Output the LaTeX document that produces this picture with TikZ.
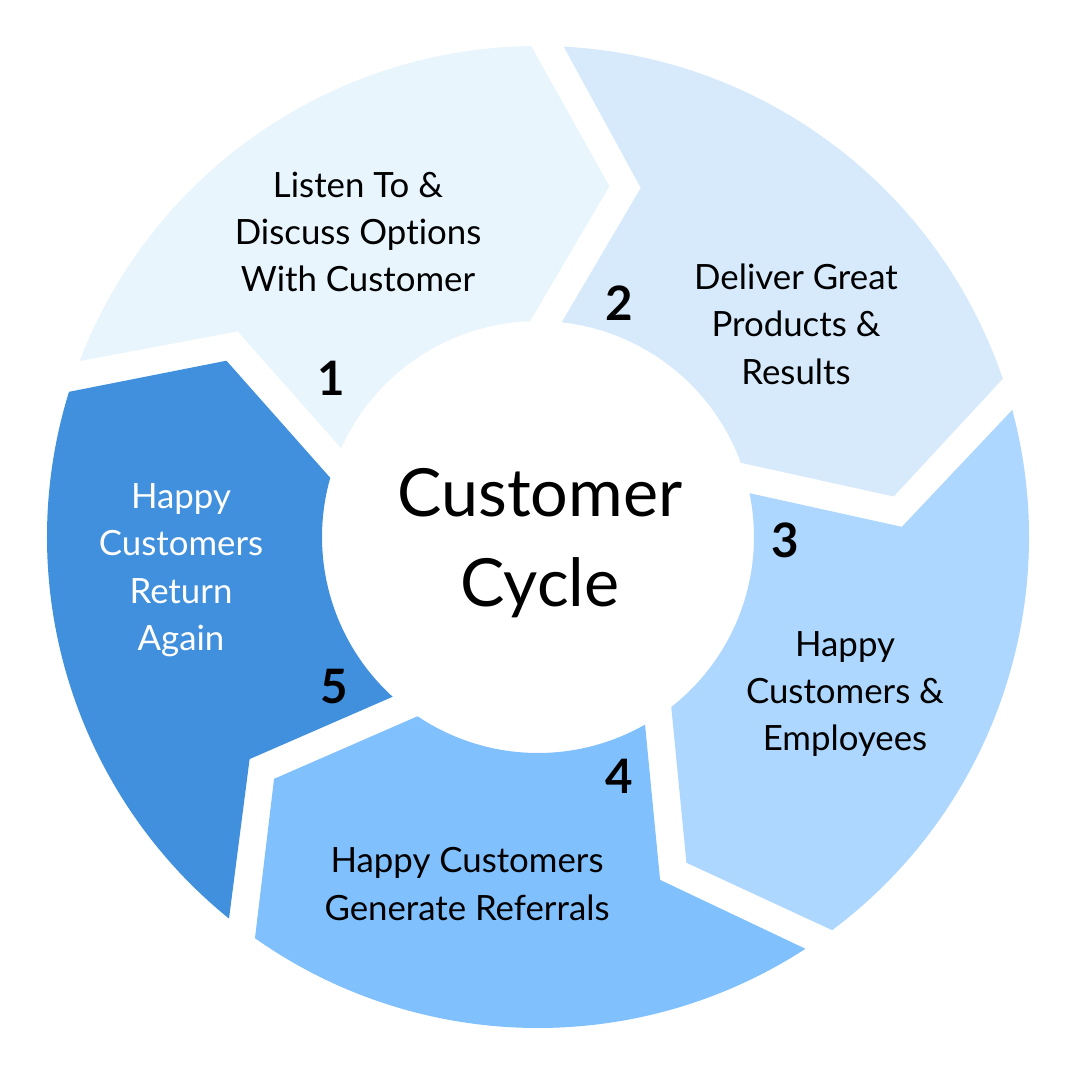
\documentclass[tikz,border=0pt]{standalone}
\usepackage{fontspec}
\setmainfont[Ligatures=NoCommon]{Lato}
\definecolor{cA}{HTML}{E8F5FD}
\definecolor{cB}{HTML}{D7EAFC}
\definecolor{cC}{HTML}{ADD7FE}
\definecolor{cD}{HTML}{80C0FD}
\definecolor{cE}{HTML}{4190DD}
\begin{document}
\begin{tikzpicture}[
  lbl/.style={align=center, text=black, font=\fontsize{9.9}{13.5}\selectfont},
  num/.style={text=black, font=\fontsize{13.5}{14}\selectfont\bfseries},
  ttl/.style={align=center, text=black, font=\fontsize{18.9}{25.8}\selectfont}
]
\useasboundingbox[fill=white] (-5.38,-5.43) rectangle (5.42,5.37);
\def\Ro{4.91}
\def\Ri{2.16}
% segment: #1 rotation, #2 colour
\newcommand\seg[2]{%
  \fill[#2] ({159+#1}:\Ro) arc[start angle={159+#1}, end angle={90.8+#1}, radius=\Ro]
    -- ({78.5+#1}:3.58)
    -- ({92.1+#1}:\Ri) arc[start angle={92.1+#1}, end angle={155.7+#1}, radius=\Ri]
    -- ({145.6+#1}:3.64) -- cycle;}
\seg{0}{cA}
\seg{-72}{cB}
\seg{-144}{cC}
\seg{-216}{cD}
\seg{-288}{cE}

\node[lbl] (t1) at (-1.80,3.05) {Listen To \&\\Discuss Options\\With Customer};
\node[num] (n1) at (-2.07,1.59) {1};
\node[lbl] (t2) at (2.58,2.13) {Deliver Great\\Products \&\\Results};
\node[num] (n2) at (0.81,2.34) {2};
\node[lbl] (t3) at (3.07,-1.57) {Happy\\Customers \&\\Employees};
\node[num] (n3) at (2.47,-0.03) {3};
\node[lbl] (t4) at (-0.71,-3.47) {Happy Customers\\Generate Referrals};
\node[num] (n4) at (0.81,-2.39) {4};
\node[lbl, text=white] (t5) at (-3.57,-0.33) {Happy\\Customers\\Return\\Again};
\node[num] (n5) at (-2.04,-1.50) {5};
\node[ttl] (c) at (0.02,-0.06) {Customer\\Cycle};
\end{tikzpicture}
\end{document}
